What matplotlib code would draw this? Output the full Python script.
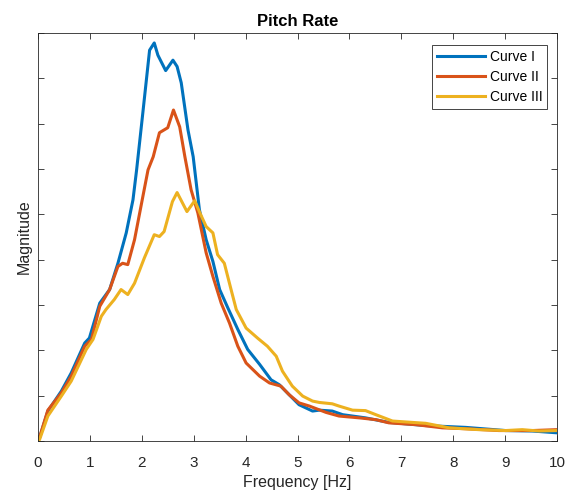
import matplotlib
matplotlib.use('Agg')
import matplotlib.pyplot as plt

# values (y in tick units, ticks unlabeled)
freq_1 = [0, 0.03, 0.19, 0.45, 0.64, 0.90, 0.99, 1.19, 1.38, 1.54, 1.70, 1.83, 1.90, 2.02, 2.15,
          2.24, 2.31, 2.46, 2.60, 2.68, 2.76, 2.89, 2.99, 3.11, 3.24, 3.37, 3.50, 3.66, 3.85, 4.04,
          4.27, 4.49, 4.65, 4.90, 5.03, 5.16, 5.29, 5.42, 5.67, 5.87, 6.31, 6.76, 7.47, 8.24, 9.01,
          9.52, 10.0]
mag_1 = [0, 0.07, 0.66, 1.10, 1.50, 2.16, 2.27, 3.04, 3.34, 3.92, 4.59, 5.32, 5.98, 7.24, 8.62,
         8.78, 8.51, 8.17, 8.40, 8.26, 7.90, 6.86, 6.27, 5.10, 4.44, 3.96, 3.34, 2.93, 2.46, 2.02,
         1.69, 1.35, 1.24, 0.95, 0.80, 0.73, 0.66, 0.68, 0.66, 0.58, 0.51, 0.41, 0.34, 0.30, 0.23,
         0.22, 0.18]

freq_2 = [0, 0.03, 0.19, 0.45, 0.64, 0.90, 1.03, 1.19, 1.38, 1.54, 1.63, 1.73, 1.86, 2.02, 2.12,
          2.22, 2.34, 2.50, 2.61, 2.73, 2.83, 2.95, 3.08, 3.24, 3.37, 3.53, 3.69, 3.85, 4.01, 4.27,
          4.46, 4.68, 4.84, 5.03, 5.23, 5.55, 5.80, 6.19, 6.51, 6.76, 7.28, 7.79, 8.24, 8.88, 9.52,
          10.0]
mag_2 = [0, 0.08, 0.68, 1.06, 1.43, 2.09, 2.24, 2.97, 3.34, 3.85, 3.92, 3.89, 4.44, 5.39, 5.98,
         6.27, 6.80, 6.91, 7.30, 6.93, 6.27, 5.54, 5.03, 4.15, 3.63, 3.04, 2.60, 2.09, 1.72, 1.43,
         1.28, 1.21, 1.02, 0.84, 0.77, 0.63, 0.55, 0.51, 0.47, 0.40, 0.36, 0.29, 0.27, 0.23, 0.23,
         0.25]

freq_3 = [0, 0.03, 0.19, 0.45, 0.64, 0.93, 1.06, 1.22, 1.31, 1.47, 1.60, 1.73, 1.86, 2.05, 2.24,
          2.34, 2.43, 2.59, 2.68, 2.87, 3.02, 3.12, 3.24, 3.37, 3.46, 3.59, 3.72, 3.82, 4.01, 4.23,
          4.42, 4.59, 4.71, 4.90, 5.10, 5.29, 5.42, 5.67, 5.80, 6.06, 6.31, 6.51, 6.83, 7.21, 7.47,
          7.92, 8.49, 9.01, 9.33, 9.65, 10.0]
mag_3 = [0, 0.03, 0.55, 0.99, 1.32, 2.02, 2.24, 2.75, 2.90, 3.12, 3.34, 3.23, 3.48, 4.04, 4.55,
         4.51, 4.62, 5.28, 5.48, 5.06, 5.30, 5.03, 4.73, 4.59, 4.11, 3.92, 3.34, 2.90, 2.49, 2.27,
         2.09, 1.87, 1.54, 1.21, 0.99, 0.88, 0.85, 0.82, 0.77, 0.68, 0.67, 0.58, 0.44, 0.41, 0.39,
         0.29, 0.25, 0.23, 0.25, 0.22, 0.23]

labels = ['Curve I', 'Curve II', 'Curve III']
colors = ['#0072BD', '#D95319', '#EDB120']

plt.rcParams['font.family'] = ['Liberation Sans', 'DejaVu Sans']

fig = plt.figure(figsize=(5.74, 4.92), dpi=100)
ax = fig.add_axes([0.0662, 0.1037, 0.9042, 0.8293])

for fx, my, lab, col in zip([freq_1, freq_2, freq_3], [mag_1, mag_2, mag_3], labels, colors):
    ax.plot(fx, my, color=col, linewidth=2.2, label=lab, solid_joinstyle='round')

ax.set_xlim(0, 10)
ax.set_ylim(0, 9)
ax.set_xticks(range(11))
ax.set_yticks(range(10))
ax.set_yticklabels([])
ax.tick_params(direction='in', top=True, right=True, length=4, width=0.6,
               colors='#262626', labelsize=11)
ax.tick_params(axis='x', pad=10.5)
for sp in ax.spines.values():
    sp.set_color('#262626')
    sp.set_linewidth(0.6)

ax.set_xlabel('Frequency [Hz]', fontsize=11.5, color='#262626', labelpad=4)
ax.set_ylabel('Magnitude', fontsize=11.5, color='#262626', labelpad=1)
ax.set_title('Pitch Rate', fontsize=12, fontweight='bold', pad=5)

leg = ax.legend(loc='upper right', bbox_to_anchor=(0.981, 0.971), fontsize=10,
                handlelength=3.5, handletextpad=0.3, borderaxespad=0, fancybox=False,
                edgecolor='#262626', framealpha=1, borderpad=0.35, labelspacing=0.45)
leg.get_frame().set_linewidth(0.6)

fig.savefig('out.png', dpi=100)
